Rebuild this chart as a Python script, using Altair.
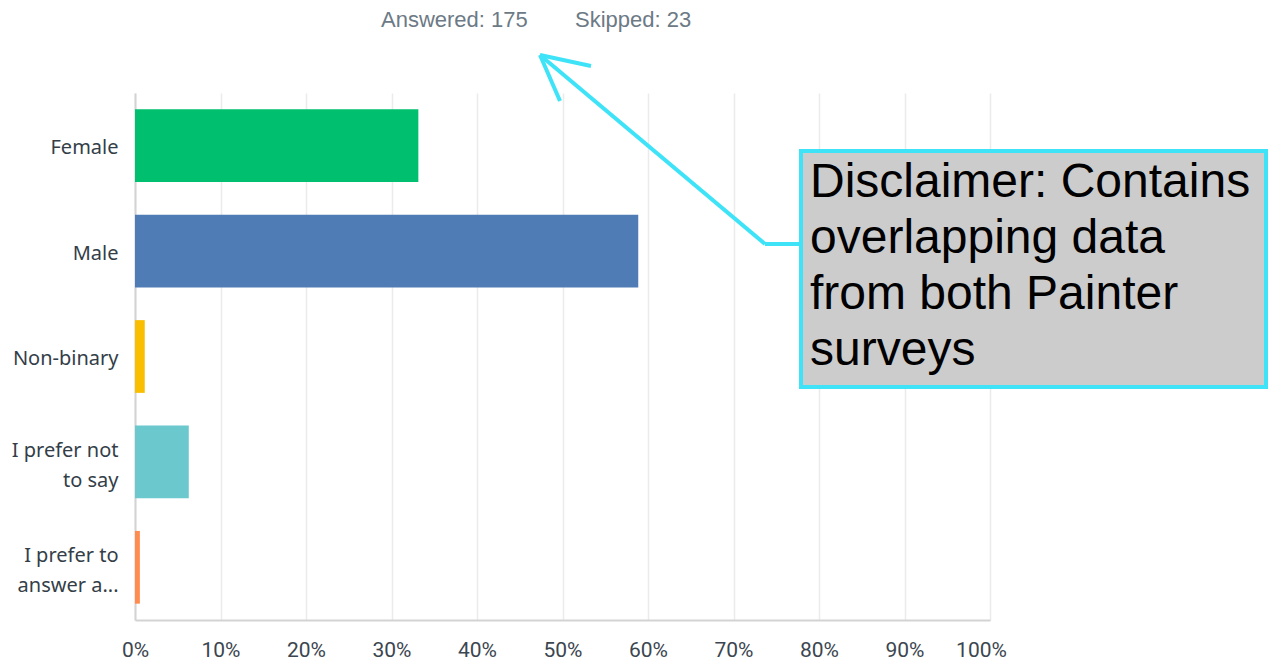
import altair as alt
import pandas as pd

categories = ["Female", "Male", "Non-binary", "I prefer not to say", "I prefer to answer a..."]
percents = [33.14, 58.86, 1.14, 6.29, 0.57]
colors = ["#00bf6f", "#507cb6", "#f9be00", "#6bc8cd", "#ff8b4f"]
label_lines = {
    "I prefer not to say": ["I prefer not", "to say"],
    "I prefer to answer a...": ["I prefer to", "answer a..."],
}
x_ticks = [0, 10, 20, 30, 40, 50, 60, 70, 80, 90, 100]
summary_texts = ["Answered: 175", "Skipped: 23"]
disclaimer_lines = ["Disclaimer: Contains", "overlapping data", "from both Painter", "surveys"]

df = pd.DataFrame({"cat": categories, "pct": percents})

label_expr = ""
for k, v in label_lines.items():
    label_expr += "datum.value == '%s' ? [%s] : " % (k, ", ".join("'%s'" % s for s in v))
label_expr += "datum.label"
multi = [k for k, v in label_lines.items() if len(v) > 1]
offset_test = "indexof([%s], datum.value) >= 0" % ", ".join("'%s'" % m for m in multi)

W, H = 855, 527
CYAN = "#3ee3f7"

bars = alt.Chart(df).mark_bar().encode(
    x=alt.X("pct:Q", scale=alt.Scale(domain=[0, 100], nice=False),
            axis=alt.Axis(values=x_ticks, labelExpr="datum.value + '%'", title=None,
                          grid=True, gridColor="#ebebeb", gridWidth=1.5, ticks=False,
                          domainColor="#d3d3d3", domainWidth=2, labelPadding=19,
                          labelFlush=False,
                          labelOffset={"condition": {"test": "datum.value == 100", "value": -9}, "value": 0},
                          labelFont="Roboto", labelFontSize=21, labelColor="#3b4650")),
    y=alt.Y("cat:N", sort=categories,
            scale=alt.Scale(paddingInner=0.31, paddingOuter=0.155),
            axis=alt.Axis(title=None, ticks=False, domainColor="#d3d3d3", domainWidth=2,
                          labelPadding=17, labelFont="Noto Sans", labelFontSize=20,
                          labelColor="#333e48", labelLineHeight=30, labelLimit=200,
                          labelOffset={"condition": {"test": offset_test, "value": -11}, "value": 2.5},
                          labelExpr=label_expr)),
    color=alt.Color("cat:N", scale=alt.Scale(domain=categories, range=colors), legend=None),
)

summary_df = pd.DataFrame({"t": summary_texts, "px": [246, 440]})
summary = alt.Chart(summary_df).mark_text(
    align="left", baseline="alphabetic", font="Liberation Sans", fontSize=22, color="#6c7a86"
).encode(
    x=alt.X("px:Q", scale=None),
    y=alt.value(-66.5),
    text="t:N",
)

# annotation arrow segments (pixel coordinates in plot space)
seg_df = pd.DataFrame({
    "x1": [665, 630, 405, 405],
    "y1": [151, 151, -38, -38],
    "x2": [630, 405, 456, 425],
    "y2": [151, -38, -27, 8],
})
arrow = alt.Chart(seg_df).mark_rule(color=CYAN, strokeWidth=4, strokeCap="butt").encode(
    x=alt.X("x1:Q", scale=None), y=alt.Y("y1:Q", scale=None),
    x2="x2:Q", y2="y2:Q",
)

box = alt.Chart(pd.DataFrame({"a": [1]})).mark_rect(
    fill="#cccccc", stroke=CYAN, strokeWidth=4
).encode(
    x=alt.value(666), x2=alt.value(1131), y=alt.value(58), y2=alt.value(294),
)

box_text = alt.Chart(pd.DataFrame({"a": [1]})).mark_text(
    align="left", baseline="alphabetic", font="Liberation Sans", fontSize=48,
    color="#000000", lineHeight=56
).encode(
    x=alt.value(675), y=alt.value(104), text=alt.value(disclaimer_lines),
)

chart = alt.layer(bars, summary, arrow, box, box_text).properties(
    width=W, height=H,
    autosize=alt.AutoSizeParams(type="none"),
    padding={"left": 127, "top": 85, "right": 278, "bottom": 40},
).configure_view(stroke=None)

chart.save("out.html", embed_options={"renderer": "svg", "actions": False})
